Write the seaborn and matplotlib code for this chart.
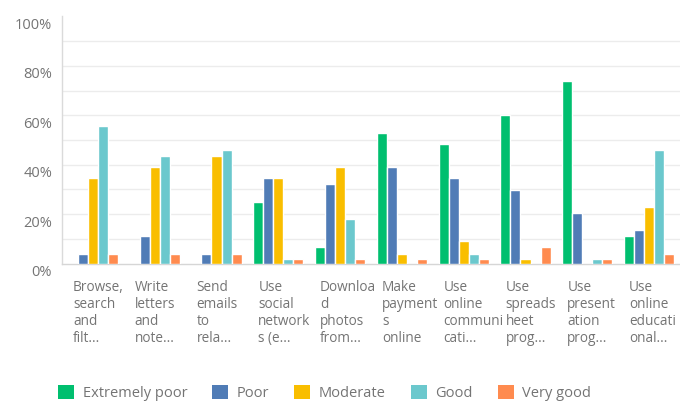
import matplotlib
matplotlib.use("Agg")
import matplotlib.pyplot as plt
import matplotlib.transforms as mtransforms
from matplotlib.patches import Patch
import numpy as np
import pandas as pd
import seaborn as sns

# Survey activities (labels wrapped the way the survey tool truncates them)
activities = [
    "Browse,\nsearch\nand\nfilt...",
    "Write\nletters\nand\nnote...",
    "Send\nemails\nto\nrela...",
    "Use\nsocial\nnetwork\ns (e...",
    "Downloa\nd\nphotos\nfrom...",
    "Make\npayment\ns\nonline",
    "Use\nonline\ncommuni\ncati...",
    "Use\nspreads\nheet\nprog...",
    "Use\npresent\nation\nprog...",
    "Use\nonline\neducati\nonal...",
]
levels = ["Extremely poor", "Poor", "Moderate", "Good", "Very good"]

# Share of respondents (%) per skill level
extremely_poor = [0, 0, 0, 25, 6.5, 53, 48.5, 60, 74, 11]
poor = [3.8, 11, 3.8, 34.6, 32, 39, 34.6, 29.6, 20.6, 13.5]
moderate = [34.6, 39, 43.7, 34.6, 39, 3.8, 9.2, 2, 0, 23]
good = [55.5, 43.7, 46, 2, 18, 0, 3.8, 0, 2, 46]
very_good = [3.8, 3.8, 3.8, 2, 2, 2, 2, 6.5, 2, 3.8]

y_ticks = [0, 20, 40, 60, 80, 100]
y_tick_labels = ["0%", "20%", "40%", "60%", "80%", "100%"]

palette = ["#00BF6F", "#507CB6", "#F9BE00", "#6BC8CD", "#FF8B4F"]
text_grey = "#747474"

sns.set_theme(style="white")
plt.rcParams["font.family"] = ["Open Sans", "DejaVu Sans"]

series = [extremely_poor, poor, moderate, good, very_good]
df = pd.DataFrame(
    [
        {"activity": act, "level": lvl, "share": val}
        for lvl, vals in zip(levels, series)
        for act, val in zip(activities, vals)
    ]
)

W, H = 680, 403
fig = plt.figure(figsize=(W / 100, H / 100), dpi=100)
ax = fig.add_axes([62 / W, 1 - 263.5 / H, 1 - 62 / W, (263.5 - 16.5) / H])

sns.barplot(
    data=df, x="activity", y="share", hue="level",
    order=activities, hue_order=levels, palette=palette,
    width=0.81, saturation=1, ax=ax, zorder=3, legend=False,
)

ax.set_xlim(-0.5, len(activities) - 0.5)
ax.set_ylim(0, 100)
ax.set_xlabel("")
ax.set_ylabel("")

# faint horizontal guides every 10%
ax.hlines(np.arange(10, 100, 10), -0.5, len(activities) - 0.5,
          colors="#ececec", linewidth=1, zorder=0)

for side in ("top", "right"):
    ax.spines[side].set_visible(False)
ax.spines["left"].set_color("#dadada")
ax.spines["bottom"].set_color("#d6d6d6")
ax.spines["left"].set_linewidth(1)
ax.spines["bottom"].set_linewidth(1)

ax.set_yticks(y_ticks)
ax.set_yticklabels(y_tick_labels)
ax.tick_params(axis="y", length=0, pad=7.2, labelsize=10.5, labelcolor=text_grey)
ax.tick_params(axis="x", length=0, pad=12, labelsize=9.8, labelcolor=text_grey)

shift_y = mtransforms.ScaledTranslation(0, -7 / 100, fig.dpi_scale_trans)
for lab in ax.get_yticklabels():
    lab.set_transform(lab.get_transform() + shift_y)

shift_x = mtransforms.ScaledTranslation(-20 / 100, 0, fig.dpi_scale_trans)
for lab in ax.get_xticklabels():
    lab.set_horizontalalignment("left")
    lab.set_linespacing(1.19)
    lab.set_transform(lab.get_transform() + shift_x)

handles = [Patch(facecolor=c, edgecolor="none") for c in palette]
leg = fig.legend(
    handles, levels, loc="center left",
    bbox_to_anchor=(58 / W, 1 - 393 / H), ncol=5, frameon=False,
    fontsize=10.5, handlelength=1.1, handleheight=1.1,
    handletextpad=0.6, columnspacing=1.7, borderpad=0, borderaxespad=0,
)
for t in leg.get_texts():
    t.set_color(text_grey)

fig.savefig("out.png", dpi=100)
